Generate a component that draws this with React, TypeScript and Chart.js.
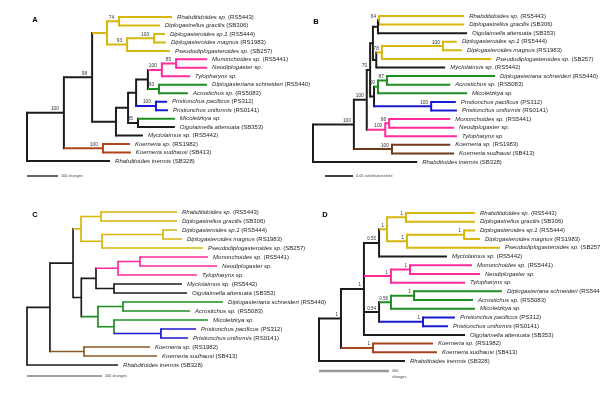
import React, { useEffect, useRef } from "react";
import { Chart, registerables } from "chart.js";

Chart.register(...registerables);

// [node, parent, depth (branch-length units), support, clade]
type Row = [string, string, number, string, string];

const panelKeys = ["A", "B", "C", "D"];
const scaleBarLengths = [100, 0.05, 500, 500];
const scaleBarLabels = ["100 changes", "0.05 substitutions/site", "500 changes", "500\nchanges"];

const treeA: Row[] = [
  ["root", "", 0, "", "k"],
  ["a1", "root", 119, "100", "k"],
  ["a98", "a1", 210, "98", "k"],
  ["aY", "a98", 258, "", "y"],
  ["aY74", "aY", 297, "74", "y"],
  ["Rhabditidoides sp. (RS5443)", "aY74", 468, "", "y"],
  ["Diplogastrellus gracilis (SB306)", "aY74", 429, "", "y"],
  ["aY93", "aY", 323, "93", "y"],
  ["aYD", "aY93", 410, "100", "y"],
  ["Diplogasteroides sp.1 (RS5444)", "aYD", 445, "", "y"],
  ["Diplogasteroides magnus (RS1983)", "aYD", 448, "", "y"],
  ["Pseudodiplogasteroides sp. (SB257)", "aY93", 461, "", "y"],
  ["aR1", "a98", 287, "", "k"],
  ["aR2", "aR1", 326, "", "k"],
  ["aR3", "aR2", 352, "", "k"],
  ["aR4", "aR3", 390, "", "k"],
  ["aP", "aR4", 435, "100", "p"],
  ["aP85", "aP", 481, "85", "p"],
  ["Mononchoides sp. (RS5441)", "aP85", 581, "", "p"],
  ["Neodiplogaster sp.", "aP85", 581, "", "p"],
  ["Tylopharynx sp.", "aP", 526, "", "p"],
  ["aG", "aR4", 426, "93", "g"],
  ["Diplogasteriana schneideri (RS5440)", "aG", 581, "", "g"],
  ["Acrostichus sp. (RS5083)", "aG", 519, "", "g"],
  ["aB", "aR3", 416, "100", "b"],
  ["Pristionchus pacificus (PS312)", "aB", 452, "", "b"],
  ["Pristionchus uniformis (RS0141)", "aB", 455, "", "b"],
  ["a85", "aR2", 358, "85", "k"],
  ["Micoletzkya sp.", "a85", 477, "", "g"],
  ["Oigolaimella attenuata (SB353)", "a85", 477, "", "k"],
  ["Myctolaimus sp. (RS5442)", "aR1", 374, "", "k"],
  ["aK", "a1", 245, "100", "r"],
  ["Koerneria sp. (RS1982)", "aK", 332, "", "r"],
  ["Koerneria sudhausi (SB413)", "aK", 335, "", "r"],
  ["Rhabditoides inermis (SB328)", "root", 268, "", "k"],
];

const treeB: Row[] = [
  ["root", "", 0, "", "k"],
  ["b1", "root", 0.073, "100", "k"],
  ["b2", "b1", 0.096, "100", "k"],
  ["b70", "b2", 0.102, "70", "k"],
  ["bU", "b70", 0.107, "", "k"],
  ["bA", "bU", 0.116, "", "k"],
  ["b64", "bA", 0.118, "64", "y"],
  ["Rhabditidoides sp. (RS5443)", "b64", 0.27, "", "y"],
  ["Diplogastrellus gracilis (SB306)", "b64", 0.27, "", "y"],
  ["Oigolaimella attenuata (SB353)", "bA", 0.275, "", "k"],
  ["bB", "bU", 0.113, "", "k"],
  ["b78", "bB", 0.123, "78", "y"],
  ["bD", "b78", 0.232, "100", "y"],
  ["Diplogasteroides sp.1 (RS5444)", "bD", 0.257, "", "y"],
  ["Diplogasteroides magnus (RS1983)", "bD", 0.266, "", "y"],
  ["Pseudodiplogasteroides sp. (SB257)", "b78", 0.318, "", "y"],
  ["Myctolaimus sp. (RS5442)", "bB", 0.236, "", "k"],
  ["b57", "b70", 0.109, "57", "k"],
  ["b60", "b57", 0.116, "60", "g"],
  ["b87", "b60", 0.132, "87", "g"],
  ["Diplogasteriana schneideri (RS5440)", "b87", 0.325, "", "g"],
  ["Acrostichus sp. (RS5083)", "b87", 0.245, "", "g"],
  ["Micoletzkya sp.", "b60", 0.275, "", "g"],
  ["bP", "b57", 0.211, "100", "b"],
  ["Pristionchus pacificus (PS312)", "bP", 0.255, "", "b"],
  ["Pristionchus uniformis (RS0141)", "bP", 0.257, "", "b"],
  ["bK", "b2", 0.129, "100", "p"],
  ["b66", "bK", 0.136, "66", "p"],
  ["Mononchoides sp. (RS5441)", "b66", 0.245, "", "p"],
  ["Neodiplogaster sp.", "b66", 0.252, "", "p"],
  ["Tylopharynx sp.", "bK", 0.257, "", "p"],
  ["bR", "b1", 0.141, "100", "r"],
  ["Koerneria sp. (RS1983)", "bR", 0.245, "", "r"],
  ["Koerneria sudhausi (SB413)", "bR", 0.252, "", "r"],
  ["Rhabditoides inermis (SB328)", "root", 0.186, "", "k"],
];

const treeC: Row[] = [
  ["root", "", 0, "", "k"],
  ["c1", "root", 153, "", "k"],
  ["cI", "c1", 307, "", "k"],
  ["cY", "cI", 360, "", "y"],
  ["cYA", "cY", 493, "", "y"],
  ["Rhabditidoides sp. (RS5443)", "cYA", 1000, "", "y"],
  ["Diplogastrellus gracilis (SB306)", "cYA", 1000, "", "y"],
  ["cYB", "cY", 500, "", "y"],
  ["cYD", "cYB", 907, "", "y"],
  ["Diplogasteroides sp.1 (RS5444)", "cYD", 1000, "", "y"],
  ["Diplogasteroides magnus (RS1983)", "cYD", 1033, "", "y"],
  ["Pseudodiplogasteroides sp. (SB257)", "cYB", 1173, "", "y"],
  ["cR", "cI", 362, "", "k"],
  ["cPM", "cR", 460, "", "k"],
  ["cP", "cPM", 607, "", "p"],
  ["cPMN", "cP", 753, "", "p"],
  ["Mononchoides sp. (RS5441)", "cPMN", 1207, "", "p"],
  ["Neodiplogaster sp.", "cPMN", 1267, "", "p"],
  ["Tylopharynx sp.", "cP", 1133, "", "p"],
  ["cMO", "cPM", 580, "", "k"],
  ["Myctolaimus sp. (RS5442)", "cMO", 1033, "", "k"],
  ["Oigolaimella attenuata (SB353)", "cMO", 1067, "", "k"],
  ["cG", "cR", 473, "", "g"],
  ["cGDA", "cG", 640, "", "g"],
  ["Diplogasteriana schneideri (RS5440)", "cGDA", 1307, "", "g"],
  ["Acrostichus sp. (RS5083)", "cGDA", 1087, "", "g"],
  ["cGMP", "cG", 580, "", "g"],
  ["Micoletzkya sp.", "cGMP", 1207, "", "g"],
  ["cB", "cGMP", 893, "", "b"],
  ["Pristionchus pacificus (PS312)", "cB", 1127, "", "b"],
  ["Pristionchus uniformis (RS0141)", "cB", 1073, "", "b"],
  ["cK", "c1", 380, "", "r"],
  ["Koerneria sp. (RS1982)", "cK", 820, "", "r"],
  ["Koerneria sudhausi (SB413)", "cK", 867, "", "r"],
  ["Rhabditoides inermis (SB328)", "root", 607, "", "k"],
];

const treeD: Row[] = [
  ["root", "", 0, "", "k"],
  ["d1", "root", 157, "1", "k"],
  ["dI", "d1", 321, "1", "k"],
  ["d55", "dI", 429, "0.55", "k"],
  ["dY", "d55", 486, "1", "y"],
  ["dYA", "dY", 621, "1", "y"],
  ["Rhabditidoides sp. (RS5443)", "dYA", 1114, "", "y"],
  ["Diplogastrellus gracilis (SB306)", "dYA", 1114, "", "y"],
  ["dYB", "dY", 629, "1", "y"],
  ["dYD", "dYB", 1036, "1", "y"],
  ["Diplogasteroides sp.1 (RS5444)", "dYD", 1114, "", "y"],
  ["Diplogasteroides magnus (RS1983)", "dYD", 1150, "", "y"],
  ["Pseudodiplogasteroides sp. (SB257)", "dYB", 1293, "", "y"],
  ["Myctolaimus sp. (RS5442)", "d55", 914, "", "k"],
  ["dP", "dI", 514, "1", "p"],
  ["dPMN", "dP", 650, "1", "p"],
  ["Mononchoides sp. (RS5441)", "dPMN", 1093, "", "p"],
  ["Neodiplogaster sp.", "dPMN", 1150, "", "p"],
  ["Tylopharynx sp.", "dP", 1043, "", "p"],
  ["d54", "dI", 429, "0.54", "k"],
  ["dG", "d54", 514, "0.56", "g"],
  ["dGDA", "dG", 679, "1", "g"],
  ["Diplogasteriana schneideri (RS5440)", "dGDA", 1307, "", "g"],
  ["Acrostichus sp. (RS5083)", "dGDA", 1100, "", "g"],
  ["Micoletzkya sp.", "dG", 1114, "", "g"],
  ["dB", "d54", 743, "1", "b"],
  ["Pristionchus pacificus (PS312)", "dB", 971, "", "b"],
  ["Pristionchus uniformis (RS0141)", "dB", 921, "", "b"],
  ["Oigolaimella attenuata (SB353)", "dI", 1043, "", "k"],
  ["dK", "d1", 386, "1", "r"],
  ["Koerneria sp. (RS1982)", "dK", 814, "", "r"],
  ["Koerneria sudhausi (SB413)", "dK", 843, "", "r"],
  ["Rhabditoides inermis (SB328)", "root", 614, "", "k"],
];

const trees = [treeA, treeB, treeC, treeD];

// ---------- styling / layout (not data) ----------
const W = 600;
const H = 401;
const FONT = '"Liberation Sans", Arial, Helvetica, sans-serif';
const CLADE_COLORS: Record<string, string> = {
  k: "#1d1d1d",
  y: "#d7b70d",
  p: "#ff2b9c",
  g: "#1f8e22",
  b: "#1a1ad0",
};
const LAYOUT = [
  { rootPx: 27, unitPx: 0.31, topPx: 17, stepPx: 8.47, lw: 2, supGap: 5, supFont: 4.8, brown: "#b0461c", barStartPx: 27, barY: 176, barColor: "#111", barW: 1.3, letter: [35, 19.5] },
  { rootPx: 313, unitPx: 560, topPx: 16, stepPx: 8.588, lw: 2, supGap: 3, supFont: 4.8, brown: "#733b1c", barStartPx: 325, barY: 176, barColor: "#111", barW: 1.6, letter: [316, 21.5] },
  { rootPx: 27, unitPx: 0.15, topPx: 212, stepPx: 9, lw: 1.7, supGap: 3, supFont: 4.8, brown: "#8c5b2a", barStartPx: 27, barY: 376, barColor: "#444", barW: 1, letter: [35, 215] },
  { rootPx: 319, unitPx: 0.14, topPx: 213, stepPx: 8.706, lw: 2, supGap: 3, supFont: 4.5, brown: "#a5431f", barStartPx: 319, barY: 371, barColor: "#9a9a9a", barW: 2.5, letter: [325, 215] },
];

type TNode = {
  name: string;
  parent: string;
  x: number;
  y: number;
  support: string;
  clade: string;
  children: TNode[];
  leaf: boolean;
};

function layoutTree(rows: Row[]) {
  const nodes: TNode[] = rows.map(([name, parent, depth, support, clade]) => ({
    name, parent, x: depth, y: 0, support, clade, children: [], leaf: false,
  }));
  const byName = new Map<string, TNode>();
  nodes.forEach((n) => byName.set(n.name, n));
  let root: TNode | null = null;
  nodes.forEach((n) => {
    if (n.parent) byName.get(n.parent)!.children.push(n);
    else root = n;
  });
  let i = 0;
  nodes.forEach((n) => {
    if (n.children.length === 0) {
      n.leaf = true;
      n.y = i++;
    }
  });
  const setY = (n: TNode): number => {
    if (n.leaf) return n.y;
    const ys = n.children.map(setY);
    n.y = (ys[0] + ys[ys.length - 1]) / 2;
    return n.y;
  };
  setY(root!);
  return { nodes, byName };
}

const PANELS = trees.map((t, i) => ({ key: panelKeys[i], ...layoutTree(t) }));

function buildDatasets() {
  const horiz: any[] = [];
  const vert: any[] = [];
  const bars: any[] = [];
  PANELS.forEach((P, i) => {
    const L = LAYOUT[i];
    const colorOf = (c: string) => (c === "r" ? L.brown : CLADE_COLORS[c]);
    const hGroups = new Map<string, any[]>();
    const vGroups = new Map<string, any[]>();
    const add = (m: Map<string, any[]>, col: string, a: any, b: any) => {
      if (!m.has(col)) m.set(col, []);
      m.get(col)!.push(a, b, { x: b.x, y: null });
    };
    P.nodes.forEach((n) => {
      if (n.parent) {
        const p = P.byName.get(n.parent)!;
        add(hGroups, colorOf(n.clade), { x: p.x, y: n.y }, { x: n.x, y: n.y });
      }
      if (!n.leaf) {
        const f = n.children[0];
        const l = n.children[n.children.length - 1];
        add(vGroups, colorOf(n.clade), { x: n.x, y: f.y }, { x: n.x, y: l.y });
      }
    });
    const common = {
      showLine: true,
      pointRadius: 0,
      pointHoverRadius: 0,
      borderWidth: L.lw,
      spanGaps: false,
      xAxisID: "x" + P.key,
      yAxisID: "y" + P.key,
      clip: false as any,
    };
    hGroups.forEach((data, col) =>
      horiz.push({ ...common, data, borderColor: col, borderCapStyle: "butt" })
    );
    vGroups.forEach((data, col) =>
      vert.push({ ...common, data, borderColor: col, borderCapStyle: "square" })
    );
    const x0 = (L.barStartPx - L.rootPx) / L.unitPx;
    const yb = (L.barY - L.topPx) / L.stepPx;
    bars.push({
      ...common,
      borderWidth: L.barW,
      borderColor: L.barColor,
      borderCapStyle: "butt",
      data: [
        { x: x0, y: yb },
        { x: x0 + scaleBarLengths[i], y: yb },
      ],
    });
  });
  return [...horiz, ...vert, ...bars];
}

function buildScales() {
  const scales: any = {};
  PANELS.forEach((P, i) => {
    const L = LAYOUT[i];
    scales["x" + P.key] = {
      type: "linear",
      axis: "x",
      display: false,
      min: -L.rootPx / L.unitPx,
      max: (W - L.rootPx) / L.unitPx,
    };
    scales["y" + P.key] = {
      type: "linear",
      axis: "y",
      display: false,
      reverse: true,
      min: -L.topPx / L.stepPx,
      max: (H - L.topPx) / L.stepPx,
    };
  });
  return scales;
}

const textPlugin = {
  id: "treeText",
  afterDatasetsDraw(chart: any) {
    const ctx: CanvasRenderingContext2D = chart.ctx;
    ctx.save();
    PANELS.forEach((P, i) => {
      const L = LAYOUT[i];
      const xs = chart.scales["x" + P.key];
      const ys = chart.scales["y" + P.key];
      P.nodes.forEach((n) => {
        const px = xs.getPixelForValue(n.x);
        const py = ys.getPixelForValue(n.y);
        if (n.leaf) {
          const k = n.name.indexOf(" (");
          const ital = k >= 0 ? n.name.slice(0, k) : n.name;
          const rest = k >= 0 ? n.name.slice(k) : "";
          ctx.fillStyle = "#1e1e1e";
          ctx.textAlign = "left";
          ctx.textBaseline = "middle";
          ctx.font = `italic 6px ${FONT}`;
          const x0 = px + 5;
          ctx.fillText(ital, x0, py);
          if (rest) {
            const w = ctx.measureText(ital).width;
            ctx.font = `6px ${FONT}`;
            ctx.fillText(rest, x0 + w, py);
          }
        } else if (n.support) {
          ctx.font = `${L.supFont}px ${FONT}`;
          ctx.fillStyle = "#333";
          ctx.textAlign = "right";
          ctx.textBaseline = "alphabetic";
          ctx.fillText(n.support, px - L.supGap, py - 2.5);
        }
      });
      // scale bar caption
      const x0 = (L.barStartPx - L.rootPx) / L.unitPx;
      const bx = xs.getPixelForValue(x0 + scaleBarLengths[i]) + 3;
      const by = ys.getPixelForValue((L.barY - L.topPx) / L.stepPx);
      ctx.font = `3.8px ${FONT}`;
      ctx.fillStyle = "#444";
      ctx.textAlign = "left";
      ctx.textBaseline = "middle";
      scaleBarLabels[i].split("\n").forEach((t, j) => ctx.fillText(t, bx, by + j * 5.5));
      // panel letter
      ctx.font = `bold 7.5px ${FONT}`;
      ctx.fillStyle = "#000";
      ctx.textAlign = "center";
      ctx.textBaseline = "middle";
      ctx.fillText(P.key, L.letter[0], L.letter[1]);
    });
    ctx.restore();
  },
};

export default function App() {
  const ref = useRef<HTMLCanvasElement>(null);
  useEffect(() => {
    document.body.style.margin = "0";
    const chart = new Chart(ref.current!, {
      type: "scatter",
      data: { datasets: buildDatasets() },
      options: {
        responsive: false,
        animation: false,
        devicePixelRatio: 1,
        events: [],
        layout: { padding: 0 },
        scales: buildScales(),
        plugins: {
          legend: { display: false },
          tooltip: { enabled: false },
        },
      } as any,
      plugins: [textPlugin],
    });
    return () => chart.destroy();
  }, []);
  return (
    <div style={{ width: W, height: H, background: "#fff" }}>
      <canvas ref={ref} width={W} height={H} style={{ display: "block" }} />
    </div>
  );
}
